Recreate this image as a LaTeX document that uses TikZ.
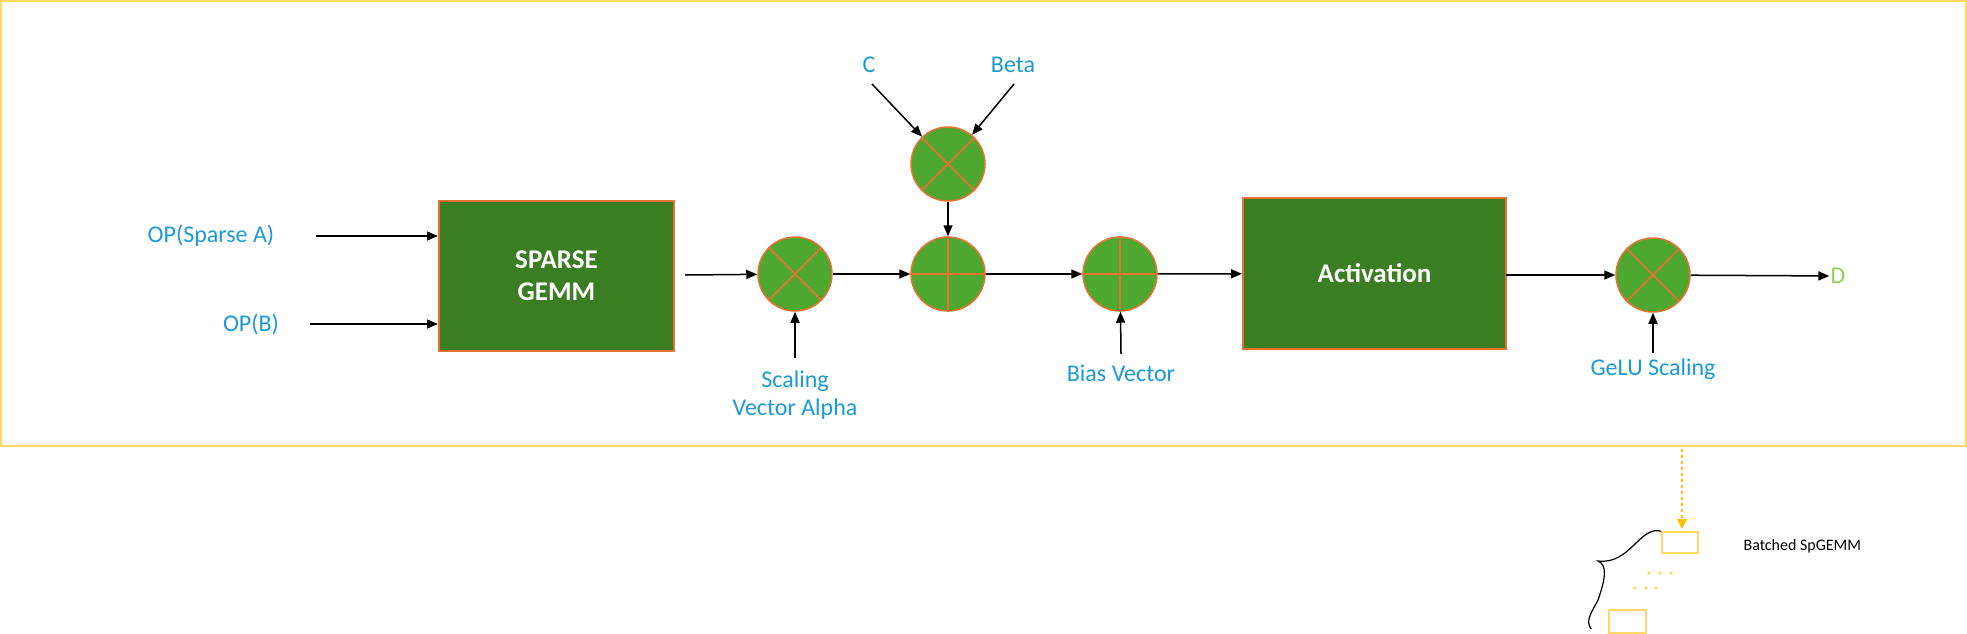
\documentclass[tikz,border=0pt]{standalone}
\usepackage{fontspec}
\setmainfont{Carlito}
\usetikzlibrary{arrows.meta}
\definecolor{dg}{HTML}{3B7D23}
\definecolor{lg}{HTML}{4EA72E}
\definecolor{org}{HTML}{E97132}
\definecolor{lbl}{HTML}{1A9AD6}
\definecolor{yel}{HTML}{FFC000}
\definecolor{yl}{HTML}{FFD966}
\definecolor{dgr}{HTML}{92D050}
\begin{document}
\begin{tikzpicture}[x=1pt,y=-1pt,
  blk/.style={draw=org,line width=2pt,fill=dg,text=white,font=\fontsize{27}{32}\selectfont\bfseries,align=center,inner sep=0},
  op/.style={circle,draw=org,line width=1.5pt,fill=lg,minimum size=74pt,inner sep=0},
  lab/.style={text=lbl,font=\fontsize{24}{28}\selectfont,align=center,inner sep=1pt},
  arr/.style={-{Triangle[length=11pt,width=9pt]},line width=1.5pt,black}]
\useasboundingbox (0,0) rectangle (1967,634);
\draw[yl,line width=1.2pt] (1,1) rectangle (1966,446);
\node[blk,minimum width=235pt,minimum height=150pt] (g) at (556.5,276) {SPARSE\\GEMM};
\node[blk,minimum width=263pt,minimum height=151pt] (act) at (1374.5,273.5) {Activation};
\node[op] (m1) at (795,274) {};
\node[op] (m2) at (948,164) {};
\node[op] (p1) at (948,274) {};
\node[op] (p2) at (1120,274) {};
\node[op] (m3) at (1653,275) {};
\foreach \n in {m1,m2,m3}{\draw[org,line width=1.5pt] (\n.45)--(\n.225) (\n.135)--(\n.315);}
\foreach \n in {p1,p2}{\draw[org,line width=1.5pt] (\n.north)--(\n.south) (\n.west)--(\n.east);}
\node[lab] (la) at (211,236) {OP(Sparse A)};
\node[lab] (lb) at (251,324) {OP(B)};
\node[lab] (lal) at (795,395) {Scaling\\Vector Alpha};
\node[lab] (lc) at (869,65) {C};
\node[lab] (lbe) at (1013,65) {Beta};
\node[lab] (lbi) at (1121,373) {Bias Vector};
\node[lab] (lge) at (1653,369) {GeLU Scaling};
\node[lab,text=dgr] (ld) at (1838,276) {D};
\coordinate (a1) at (316,236); \coordinate (a2) at (310,324);
\draw[arr] (a1) -- (a1 -| g.west);
\draw[arr] (a2) -- (a2 -| g.west);
\draw[arr] (685,275) -- (m1);
\draw[arr] (m1) -- (p1);
\draw[arr] (p1) -- (p2);
\draw[arr] (p2) -- (act);
\draw[arr] (1506,275) -- (m3);
\draw[arr] (m3) -- (ld);
\draw[arr] (m2) -- (p1);
\draw[arr] (872,84) -- (m2);
\draw[arr] (1014,84) -- (m2);
\draw[arr] (795,358) -- (m1);
\draw[arr] (1121,354) -- (p2);
\draw[arr] (1653,353) -- (m3);
% batched
\draw[yel,line width=1.5pt,dashed,-{Triangle[length=10pt,width=10pt]}] (1682,449) -- (1682,529);
\node[draw=yl,line width=1.5pt,minimum width=36pt,minimum height=21pt,inner sep=0] (r1) at (1680,542.5) {};
\node[draw=yl,line width=1.5pt,minimum width=37pt,minimum height=23pt,inner sep=0] (r2) at (1627.5,621.5) {};
\foreach \x in {1649,1660,1671}{\fill[yl] (\x,573) circle (1.8pt);}
\foreach \x in {1635,1646,1656}{\fill[yl] (\x,588) circle (1.8pt);}
\draw[line width=1.2pt] (r1.north west) .. controls (1640,525) and (1630,565) .. (1598,561)
  .. controls (1608,565) and (1605,580) .. (1598,600) .. controls (1592,612) and (1585,620) .. (1591,629);
\node[font=\fontsize{16}{19}\selectfont,anchor=west] (bt) at (1740,546) {Batched SpGEMM};
\end{tikzpicture}
\end{document}
